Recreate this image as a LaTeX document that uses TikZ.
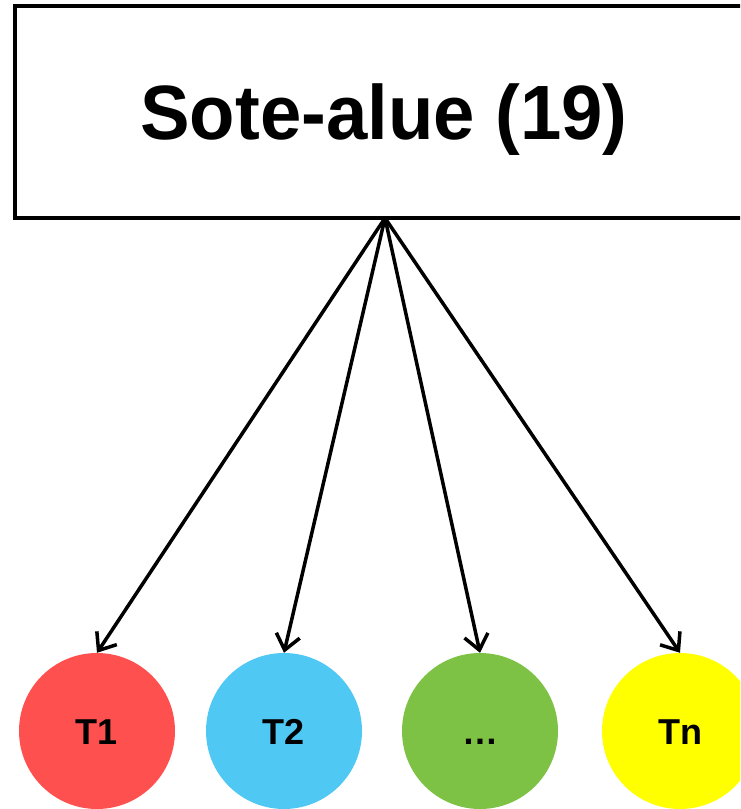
\documentclass[tikz,border=0pt]{standalone}
\usepackage{fontspec}
\setmainfont{Liberation Sans}
\newfontfamily\headfont[FakeStretch=0.965]{Liberation Sans}
\usetikzlibrary{arrows.meta}
\definecolor{cred}{HTML}{FF5050}
\definecolor{cblue}{HTML}{4FC8F3}
\definecolor{cgreen}{HTML}{7DC145}
\definecolor{cyellow}{HTML}{FFFF00}
\tikzset{
  areabox/.style={draw=black, line width=4pt, fill=white, minimum width=738pt, minimum height=212pt,
    inner sep=0pt, text height=55pt, text depth=0pt, font=\headfont\fontsize{77}{80}\selectfont\bfseries},
  topicball/.style={circle, fill=#1, draw=none, minimum size=156pt, inner sep=0pt,
    text height=26pt, text depth=0pt, font=\fontsize{36}{40}\selectfont\bfseries},
  linkarrow/.style={line width=3.5pt, -{Straight Barb[length=15pt,width=24pt,line width=3.5pt]}}
}
\begin{document}
\begin{tikzpicture}[x=1pt,y=-1pt]
\useasboundingbox (0,0) rectangle (740,809);
\clip (0,0) rectangle (740,809);
\node[areabox] (top) at (384,112) {Sote-alue (19)};
\coordinate (src) at (385,218);
\node[topicball=cred] (t1) at (97,731) {T1};
\node[topicball=cblue] (t2) at (284,731) {T2};
\node[topicball=cgreen] (t3) at (480,731) {…};
\node[topicball=cyellow] (tn) at (680,731) {Tn};
\foreach \n in {t1,t2,t3,tn}
  \draw[linkarrow] (src) -- (\n.north);
\end{tikzpicture}
\end{document}
